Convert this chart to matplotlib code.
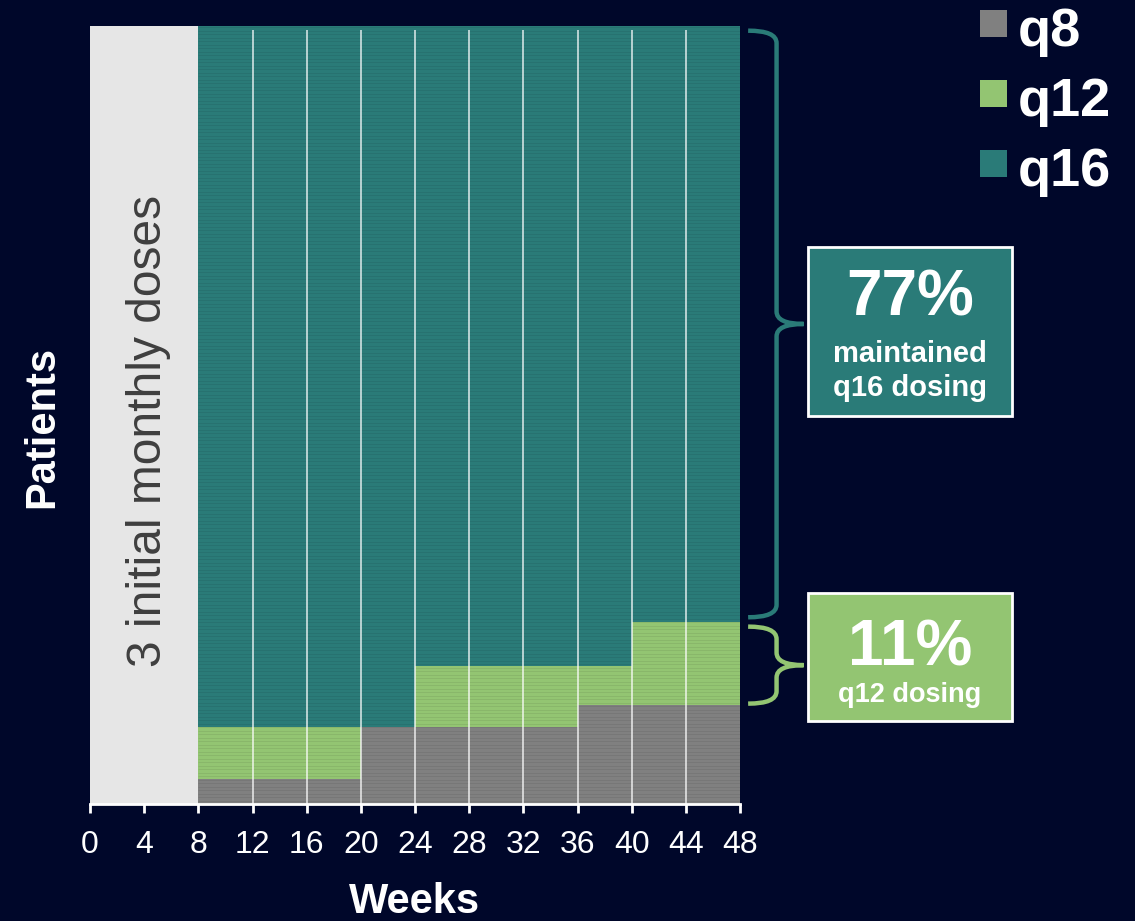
import numpy as np
import matplotlib.pyplot as plt
from matplotlib.patches import Rectangle, PathPatch
from matplotlib.path import Path

plt.rcParams['font.family'] = ['Liberation Sans', 'DejaVu Sans']

# Данные: доля пациентов (%) по интервалам дозирования между неделями
edges = [8, 20, 24, 36, 40, 48]
q8 = [3.2, 9.9, 9.9, 12.7, 12.7]
q12 = [6.7, 0.0, 7.8, 5.0, 10.7]
q16 = [100 - a - b for a, b in zip(q8, q12)]
series = ['q8', 'q12', 'q16']
week_ticks = list(range(0, 49, 4))
pct_q16 = '77%'
pct_q12 = '11%'

BG = '#00072a'
GRAY = '#808080'
GREEN = '#93c572'
TEAL = '#2a7b78'
colors = [GRAY, GREEN, TEAL]


def brace(ax, x0, xv, xtip, ytop, ybot, color, r=1.6):
    """Фигурная скобка в координатах данных"""
    ymid = (ytop + ybot) / 2
    verts = [(x0, ytop), (xv, ytop), (xv, ytop - r),
             (xv, ymid + r), (xv, ymid), (xtip, ymid),
             (xv, ymid), (xv, ymid - r),
             (xv, ybot + r), (xv, ybot), (x0, ybot)]
    codes = [Path.MOVETO, Path.CURVE3, Path.CURVE3,
             Path.LINETO, Path.CURVE3, Path.CURVE3,
             Path.CURVE3, Path.CURVE3,
             Path.LINETO, Path.CURVE3, Path.CURVE3]
    ax.add_patch(PathPatch(Path(verts, codes), fill=False, edgecolor=color,
                           lw=3.2, clip_on=False, capstyle='butt'))


fig = plt.figure(figsize=(11.35, 9.21), dpi=100, facecolor=BG)
ax = fig.add_axes([90 / 1135, 117 / 921, 650 / 1135, 778 / 921])
ax.set_facecolor(BG)

x = np.array(edges[:-1])
w = np.diff(edges)
bottom = np.zeros(len(x))
for vals, c in zip([q8, q12, q16], colors):
    ax.bar(x, vals, width=w, bottom=bottom, align='edge', color=c, linewidth=0)
    bottom += np.array(vals)

# Начальный период
ax.axvspan(0, edges[0], color='#e6e6e6', lw=0)
ax.text(edges[0] / 2 + 0.3, 48, '3 initial monthly doses', rotation=90,
        fontsize=34.5, color='#3f3f3f', ha='center', va='center')

# Полосы пациентов и сетка
ax.hlines(np.arange(0.4, 100, 0.45), edges[0], edges[-1], color='black',
          alpha=0.08, lw=0.6)
ax.vlines(week_ticks[3:-1], 0, 99.5, color='white', lw=1.1, alpha=0.85)

ax.set_xlim(0, 48)
ax.set_ylim(0, 100)
ax.set_yticks([])
ax.set_xticks(week_ticks)
ax.tick_params(axis='x', colors='white', labelsize=23, length=6.5, width=2, pad=12)
for s in ['top', 'right', 'left']:
    ax.spines[s].set_visible(False)
ax.spines['bottom'].set_color('white')
ax.spines['bottom'].set_linewidth(2)
ax.set_xlabel('Weeks', color='white', fontsize=30, fontweight='bold', labelpad=16)
ax.set_ylabel('Patients', color='white', fontsize=30, fontweight='bold')
ax.yaxis.set_label_coords(-0.042, 0.485)

# Скобки
top12 = q8[-1] + q12[-1]
brace(ax, 48.6, 50.7, 52.7, 99.4, top12 + 0.6, TEAL)
brace(ax, 48.6, 50.7, 52.7, top12 - 0.6, q8[-1] + 0.2, GREEN)

# Подписи в рамках
fig.patches.append(Rectangle((808 / 1135, 505 / 921), 204 / 1135, 169 / 921,
                             transform=fig.transFigure, facecolor=TEAL,
                             edgecolor='white', lw=2))
fig.patches.append(Rectangle((808 / 1135, 200 / 921), 204 / 1135, 128 / 921,
                             transform=fig.transFigure, facecolor=GREEN,
                             edgecolor='white', lw=2))
cx = 910 / 1135
fig.text(cx, 0.676, pct_q16, color='white', fontsize=46, fontweight='bold',
         ha='center', va='center')
fig.text(cx, 0.616, 'maintained', color='white', fontsize=21, fontweight='bold',
         ha='center', va='center')
fig.text(cx, 0.579, 'q16 dosing', color='white', fontsize=21, fontweight='bold',
         ha='center', va='center')
fig.text(cx, 0.296, pct_q12, color='white', fontsize=46, fontweight='bold',
         ha='center', va='center')
fig.text(cx, 0.245, 'q12 dosing', color='white', fontsize=19.5, fontweight='bold',
         ha='center', va='center')

# Легенда
for i, (name, c) in enumerate(zip(series, colors)):
    ytop = 10 + 70 * i
    fig.patches.append(Rectangle((980 / 1135, 1 - (ytop + 27) / 921), 27 / 1135,
                                 27 / 921, transform=fig.transFigure,
                                 facecolor=c, lw=0))
    fig.text(1018 / 1135, 1 - (ytop + 22) / 921, name, color='white', fontsize=39,
             fontweight='bold', ha='left', va='center')

fig.savefig('out.png', dpi=100, facecolor=BG)
